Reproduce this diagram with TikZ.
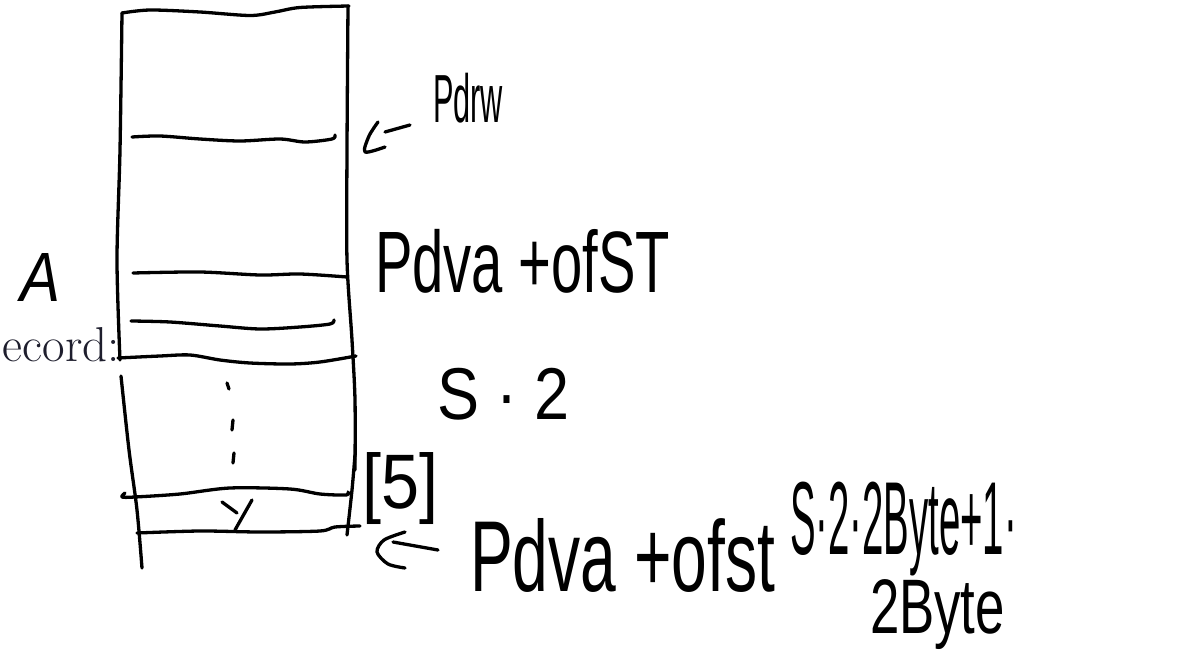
\documentclass[tikz,border=0pt]{standalone}
\usepackage{fontspec}
\newfontfamily\handfont{Liberation Sans}
\tikzset{
  pen/.style={line width=3.3pt, line cap=round, line join=round, black},
  hand/.style={anchor=north west, inner sep=0pt, outer sep=0pt, font=\handfont\fontsize{40}{40}\selectfont},
}
% fit a handwritten label to a given width and total height
\newcommand{\fitlabel}[3]{\resizebox*{#1}{#2}{#3}}
\begin{document}
\begin{tikzpicture}[x=1pt,y=-1pt]
\useasboundingbox (0,0) rectangle (1179,653);
\fill[white] (0,0) rectangle (1179,653);

% memory column: outline
\draw[pen] plot[smooth] coordinates {(122,13) (150,10) (200,12) (250,15.5) (275,12) (300,7.5) (349,6)};
\draw[pen] plot[smooth] coordinates {(122,13) (120,150) (117,260) (120,360)};
\draw[pen] plot[smooth] coordinates {(121,376) (129,450) (137,510) (142,568)};
\draw[pen] plot[smooth] coordinates {(348,6) (347,150) (347,260) (352,340) (355,400) (355,470)};
\draw[pen] plot[smooth] coordinates {(355,455) (352,490) (347,535)};

% cell boundaries
\draw[pen] plot[smooth] coordinates {(132,137) (160,136) (200,139) (240,141) (280,139) (305,142) (332,139) (335,135)};
\draw[pen] plot[smooth] coordinates {(133,273) (200,272) (260,275) (300,274) (347,277)};
\draw[pen] plot[smooth] coordinates {(131,321) (170,322) (220,326) (260,329) (300,327) (330,324) (334,320)};
\draw[pen] plot[smooth] coordinates {(118,358) (160,356) (190,355) (220,360) (250,363) (290,364) (320,362) (356,356)};
\draw[pen] plot[smooth] coordinates {(125,493) (122,497) (135,497) (180,494) (230,488) (290,489) (320,494) (346,495) (348,492)};
\draw[pen] plot[smooth] coordinates {(137,533) (200,531) (260,532) (320,531) (335,527) (360,526)};

% ellipsis dots between the cells
\draw[pen] (227,383) -- (229,389);
\draw[pen] (233,420) -- (232,430);
\draw[pen] (234,453) -- (233,463);

% element marker in the last cell
\draw[pen] (222,502) -- (237,513);
\draw[pen] (252,500) -- (235,530);

% pointer arrows
\draw[pen] plot[smooth] coordinates {(378,122) (369,136) (365,152) (385,147)};
\draw[pen] (385,132) -- (410,125);
\draw[pen] plot[smooth] coordinates {(405,532) (384,540) (377,552) (388,564) (405,568)};
\draw[pen] (393,542) -- (438,550);

% labels
\node[anchor=base east, inner sep=0pt, font=\fontsize{49}{49}\selectfont, text={rgb,255:red,30;green,30;blue,45}] (record) at (120,361) {ecord:};
\node[hand, font=\handfont\itshape\fontsize{40}{40}\selectfont] (A) at (20,253) {\fitlabel{40pt}{48pt}{A}};
\node[hand] (adrw) at (433,73) {\fitlabel{70pt}{50pt}{Pdrw}};
\node[hand] (adra) at (375,229) {\fitlabel{295pt}{64pt}{Pdva +ofST}};
\node[hand] (stwo) at (437,368) {\fitlabel{133pt}{52pt}{S · 2}};
\node[hand] (idx) at (362,453) {\fitlabel{76pt}{72pt}{[5]}};
\node[hand] (adrb) at (470,518) {\fitlabel{305pt}{74pt}{Pdva +ofst}};
\node[hand] (offs) at (790,482) {\fitlabel{227pt}{94pt}{S·2·2Byte+1·}};
\node[hand] (byte) at (870,580) {\fitlabel{135pt}{70pt}{2Byte}};
\end{tikzpicture}
\end{document}
